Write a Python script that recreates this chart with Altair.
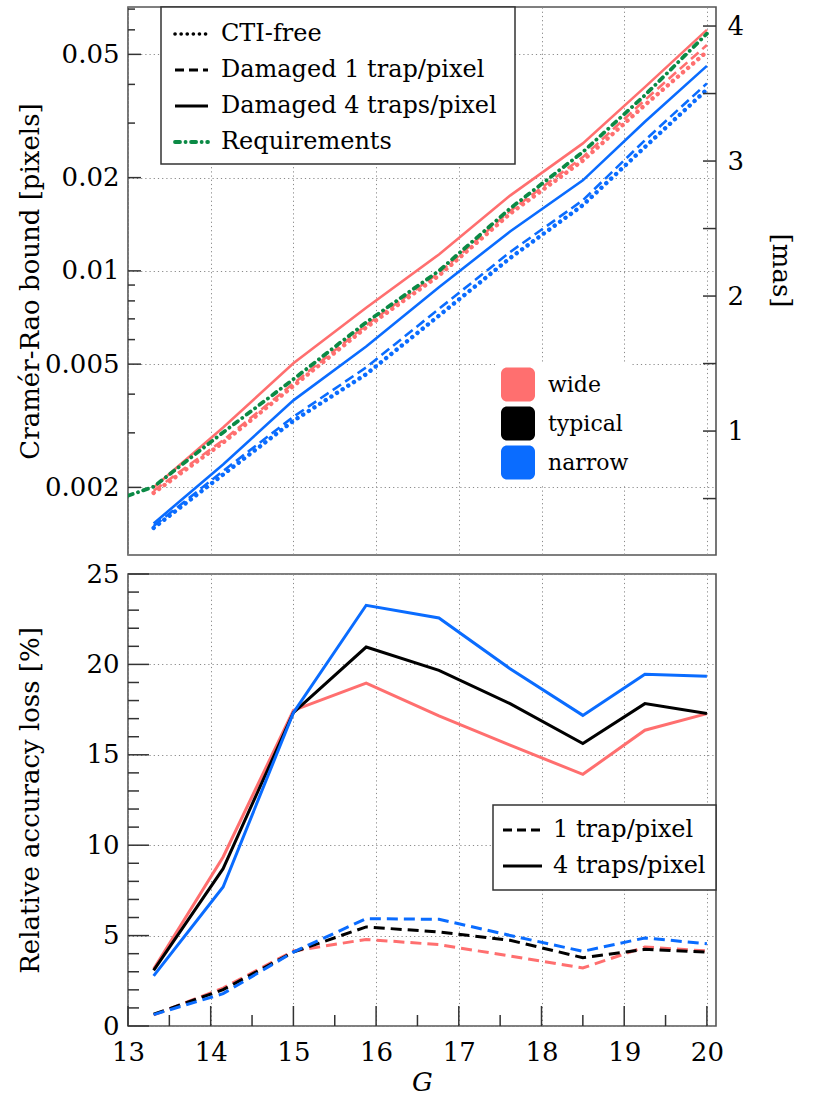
import altair as alt
import pandas as pd

# ---------------- data ----------------
G = [13.31, 14.15, 15.0, 15.88, 16.76, 17.62, 18.5, 19.25, 20.0]

# Cramer-Rao bound [pixels]
wide_free = [0.00192, 0.00279, 0.00425, 0.00657, 0.00966, 0.0153, 0.0227, 0.0343, 0.0510]
wide_1trap = [0.00195, 0.00284, 0.00433, 0.00668, 0.00985, 0.0156, 0.0233, 0.0356, 0.0536]
wide_4trap = [0.00200, 0.00312, 0.00503, 0.00760, 0.0113, 0.0175, 0.0258, 0.0392, 0.0600]
narrow_free = [0.00148, 0.00220, 0.00328, 0.00464, 0.00717, 0.0110, 0.0163, 0.0251, 0.0385]
narrow_1trap = [0.00150, 0.00226, 0.00338, 0.00488, 0.00754, 0.0115, 0.0169, 0.0264, 0.0403]
narrow_4trap = [0.00153, 0.00237, 0.00382, 0.00570, 0.00886, 0.0134, 0.0196, 0.0303, 0.0459]
req_G = [13.0, 13.31, 14.15, 15.0, 15.88, 16.76, 17.62, 18.5, 19.25, 20.0]
req = [0.00188, 0.00201, 0.00301, 0.00447, 0.00682, 0.0100, 0.0159, 0.0242, 0.0369, 0.0583]

# Relative accuracy loss [%]
wide_loss4 = [3.15, 9.35, 17.46, 18.97, 17.15, 15.53, 13.92, 16.36, 17.28]
typical_loss4 = [3.08, 8.70, 17.33, 20.96, 19.67, 17.83, 15.62, 17.83, 17.28]
narrow_loss4 = [2.77, 7.69, 17.33, 23.27, 22.57, 19.76, 17.18, 19.45, 19.34]
wide_loss1 = [0.61, 2.10, 4.15, 4.79, 4.50, 3.87, 3.21, 4.37, 4.15]
typical_loss1 = [0.65, 2.01, 4.09, 5.48, 5.20, 4.74, 3.78, 4.24, 4.09]
narrow_loss1 = [0.63, 1.79, 4.09, 5.94, 5.90, 5.01, 4.13, 4.87, 4.55]

# ticks / labels
x_ticks = [13, 14, 15, 16, 17, 18, 19, 20]
x_minor = [13.5, 14.5, 15.5, 16.5, 17.5, 18.5, 19.5]
top_major = [0.002, 0.005, 0.01, 0.02, 0.05]
top_minor = [0.003, 0.004, 0.006, 0.007, 0.008, 0.009, 0.03, 0.04, 0.06, 0.07]
mas_ticks = [0.5, 1, 1.5, 2, 2.5, 3, 3.5, 4]
mas_labels = [1, 2, 3, 4]
bot_major = [0, 5, 10, 15, 20, 25]
bot_minor = [1, 2, 3, 4, 6, 7, 8, 9, 11, 12, 13, 14, 16, 17, 18, 19, 21, 22, 23, 24]

top_legend_labels = ["CTI-free", "Damaged 1 trap/pixel", "Damaged 4 traps/pixel", "Requirements"]
width_labels = ["wide", "typical", "narrow"]
bot_legend_labels = ["1 trap/pixel", "4 traps/pixel"]

# ---------------- style ----------------
FONT = "DejaVu Serif"
RED = "#ff6f6f"
BLUE = "#0a6cff"
BLACK = "#000000"
GREEN = "#0b8a45"
GRID = "#8a8a8a"
W, H1, H2 = 588, 548, 452

DOT = dict(strokeDash=[0.1, 6.6], strokeCap="round", strokeWidth=4.4)
DASH = dict(strokeDash=[10, 5], strokeWidth=2.6)
SOLID = dict(strokeWidth=2.6)
DASHDOT = dict(strokeDash=[5, 5.5, 0.1, 5.5], strokeCap="round", strokeWidth=3.8)

xscale = alt.Scale(domain=[13, 20.11], nice=False, zero=False)
yscale_top = alt.Scale(type="log", domain=[0.00121, 0.0711], nice=False)
yscale_mas = alt.Scale(domain=[0.082, 4.141], nice=False, zero=False)
yscale_bot = alt.Scale(domain=[0, 25], nice=False, zero=False)

common_lab = dict(labelFont=FONT, labelFontSize=26, labelColor="black",
                  titleFont=FONT, titleFontSize=26, titleFontWeight="normal", titleColor="black")
grid_kw = dict(gridDash=[1.2, 3], gridColor=GRID, gridWidth=1, gridOpacity=1)

ax_top_x = alt.Axis(values=x_ticks, grid=True, labels=False, ticks=False, tickSize=0,
                    domain=False, title=None, **grid_kw)
ax_top_y = alt.Axis(values=top_major, format="~g", grid=True, ticks=False, tickSize=0, domain=False,
                    labelPadding=9, title="Cramér-Rao bound [pixels]", titleX=-98, titleY=H1 / 2,
                    titleAngle=270, titleAlign="center", titleBaseline="middle",
                    **grid_kw, **common_lab)
ax_mas = alt.Axis(orient="right", values=mas_labels, grid=False, ticks=False, tickSize=0, domain=False,
                  labelPadding=11, title="[mas]", titleX=64, titleY=263, titleAngle=90,
                  titleAlign="center", titleBaseline="middle", **common_lab)
ax_bot_x = alt.Axis(values=x_ticks, grid=True, ticks=False, tickSize=0, domain=False,
                    labelPadding=26, labelBaseline="middle", labelFlush=False,
                    title="G", titleFontStyle="italic",
                    titleY=56, titleBaseline="middle", **grid_kw, **common_lab)
ax_bot_y = alt.Axis(values=bot_major, grid=True, ticks=False, tickSize=0, domain=False,
                    labelPadding=9, title="Relative accuracy loss [%]", titleX=-98, titleY=H2 / 2,
                    titleAngle=270, titleAlign="center", titleBaseline="middle",
                    **grid_kw, **common_lab)


def series(xs, ys, yfield, yscale, ax_x, ax_y, color, style):
    df = pd.DataFrame({"G": xs, yfield: ys})
    return alt.Chart(df).mark_line(color=color, clip=True, **style).encode(
        x=alt.X("G:Q", scale=xscale, axis=ax_x),
        y=alt.Y(f"{yfield}:Q", scale=yscale, axis=ax_y),
    )


def yticks(vals, yfield, yscale, ax_y, x0, x1):
    return alt.Chart(pd.DataFrame({yfield: vals})).mark_rule(color="#333", strokeWidth=1.5).encode(
        y=alt.Y(f"{yfield}:Q", scale=yscale, axis=ax_y), x=alt.value(x0), x2=alt.value(x1))


def xticks(vals, ax_x, y0, y1):
    return alt.Chart(pd.DataFrame({"G": vals})).mark_rule(color="#333", strokeWidth=1.5).encode(
        x=alt.X("G:Q", scale=xscale, axis=ax_x), y=alt.value(y0), y2=alt.value(y1))


def prule(x0, x1, y, color, style):
    return alt.Chart(pd.DataFrame({"a": [0]})).mark_rule(color=color, **style).encode(
        x=alt.value(x0), x2=alt.value(x1), y=alt.value(y))


def ptext(label, x, y, size):
    return alt.Chart(pd.DataFrame({"label": [label]})).mark_text(
        align="left", baseline="middle", font=FONT, fontSize=size, color="black").encode(
        x=alt.value(x), y=alt.value(y), text="label:N")


def pbox(x0, x1, y0, y1, stroke=None, radius=0, fill="white"):
    kw = dict(fill=fill, cornerRadius=radius)
    if stroke:
        kw.update(stroke=stroke, strokeWidth=1.5)
    return alt.Chart(pd.DataFrame({"a": [0]})).mark_rect(**kw).encode(
        x=alt.value(x0), x2=alt.value(x1), y=alt.value(y0), y2=alt.value(y1))


# ---------------- top panel ----------------
tl = []
tl.append(series(G, wide_4trap, "crb", yscale_top, ax_top_x, ax_top_y, RED, SOLID))
tl.append(series(G, wide_1trap, "crb", yscale_top, ax_top_x, ax_top_y, RED, DASH))
tl.append(series(G, wide_free, "crb", yscale_top, ax_top_x, ax_top_y, RED, DOT))
tl.append(series(G, narrow_4trap, "crb", yscale_top, ax_top_x, ax_top_y, BLUE, SOLID))
tl.append(series(G, narrow_1trap, "crb", yscale_top, ax_top_x, ax_top_y, BLUE, DASH))
tl.append(series(G, narrow_free, "crb", yscale_top, ax_top_x, ax_top_y, BLUE, DOT))
tl.append(series(req_G, req, "crb", yscale_top, ax_top_x, ax_top_y, GREEN, DASHDOT))
tl.append(yticks(top_major, "crb", yscale_top, ax_top_y, 0, 13))
tl.append(yticks(top_minor, "crb", yscale_top, ax_top_y, 0, 7))

# legend (line styles)
tl.append(pbox(33, 387, 0, 157, stroke="#333"))
styles = [(BLACK, dict(strokeDash=[0.1, 6], strokeCap="round", strokeWidth=3.6)),
          (BLACK, dict(strokeDash=[9, 5], strokeWidth=2.8)),
          (BLACK, dict(strokeWidth=2.8)),
          (GREEN, DASHDOT)]
for i, (lab, (c, st)) in enumerate(zip(top_legend_labels, styles)):
    yy = 27 + i * 36
    tl.append(prule(47, 80, yy, c, st))
    tl.append(ptext(lab, 93, yy, 24))

# legend (widths)
tl.append(pbox(367, 502, 357, 477))
for i, (lab, c) in enumerate(zip(width_labels, [RED, BLACK, BLUE])):
    yc = 377.5 + i * 39
    tl.append(alt.Chart(pd.DataFrame({"a": [0]})).mark_rect(fill=c, cornerRadius=6).encode(
        x=alt.value(373), x2=alt.value(407), y=alt.value(yc - 17), y2=alt.value(yc + 17)))
    tl.append(ptext(lab, 420, yc, 22))

left_group = alt.layer(*tl)
right_group = alt.layer(yticks(mas_ticks, "mas", yscale_mas, ax_mas, W - 13, W))
top = alt.layer(left_group, right_group).resolve_scale(y="independent").properties(width=W, height=H1)

# ---------------- bottom panel ----------------
bl = []
for vals, c in [(wide_loss4, RED), (typical_loss4, BLACK), (narrow_loss4, BLUE)]:
    bl.append(series(G, vals, "loss", yscale_bot, ax_bot_x, ax_bot_y, c, dict(strokeWidth=3)))
for vals, c in [(wide_loss1, RED), (typical_loss1, BLACK), (narrow_loss1, BLUE)]:
    bl.append(series(G, vals, "loss", yscale_bot, ax_bot_x, ax_bot_y, c, dict(strokeWidth=3, strokeDash=[11, 6])))
bl.append(yticks(bot_major, "loss", yscale_bot, ax_bot_y, 0, 21))
bl.append(yticks(bot_minor, "loss", yscale_bot, ax_bot_y, 0, 11))
bl.append(xticks(x_ticks, ax_bot_x, H2, H2 - 20))
bl.append(xticks(x_minor, ax_bot_x, H2, H2 - 11))

bl.append(pbox(365, 588, 231, 316, stroke="#333"))
for i, (lab, st) in enumerate(zip(bot_legend_labels, [dict(strokeWidth=3, strokeDash=[9, 5]), dict(strokeWidth=3)])):
    yy = 256 + i * 36
    bl.append(prule(375, 414, yy, BLACK, st))
    bl.append(ptext(lab, 425, yy, 24))

bottom = alt.layer(*bl).properties(width=W, height=H2)

chart = alt.vconcat(top, bottom, spacing=19, bounds="flush").properties(
    padding={"left": 16, "top": 5, "right": 5, "bottom": 5}
).configure_view(stroke="#555", strokeWidth=1.6)

chart.save("out.html", embed_options={"renderer": "svg", "actions": False})
